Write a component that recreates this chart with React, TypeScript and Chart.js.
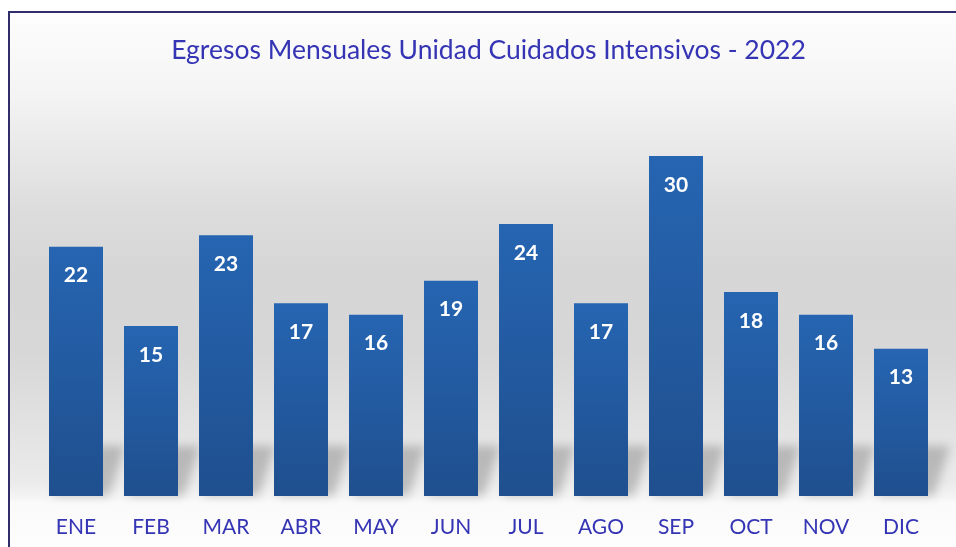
import React, { useEffect, useRef } from "react";
import { Chart, registerables } from "chart.js";

Chart.register(...registerables);

const TITLE = "Egresos Mensuales Unidad Cuidados Intensivos - 2022";
const MONTHS = ["ENE", "FEB", "MAR", "ABR", "MAY", "JUN", "JUL", "AGO", "SEP", "OCT", "NOV", "DIC"];
const EGRESOS = [22, 15, 23, 17, 16, 19, 24, 17, 30, 18, 16, 13];
const Y_MAX = 35;

const TEXT_BLUE = "#3434b4";
const FONT = "Lato, 'Open Sans', sans-serif";

const shadowPlugin = {
  id: "barShadow",
  beforeDatasetsDraw(chart: any) {
    const ctx = chart.ctx;
    const meta = chart.getDatasetMeta(0);
    ctx.save();
    ctx.filter = "blur(5px)";
    ctx.fillStyle = "rgba(0,0,0,0.2)";
    meta.data.forEach((bar: any) => {
      const xL = bar.x - bar.width / 2;
      const xR = bar.x + bar.width / 2;
      const b = bar.base;
      ctx.beginPath();
      ctx.moveTo(xL + 4, b);
      ctx.lineTo(xR + 6, b);
      ctx.lineTo(xR + 22, b - 50);
      ctx.lineTo(xL + 20, b - 50);
      ctx.closePath();
      ctx.fill();
    });
    ctx.restore();
  },
};

const valueLabelPlugin = {
  id: "valueLabels",
  afterDatasetsDraw(chart: any) {
    const ctx = chart.ctx;
    const meta = chart.getDatasetMeta(0);
    const data = chart.data.datasets[0].data;
    ctx.save();
    ctx.fillStyle = "#ffffff";
    ctx.font = `bold 21px ${FONT}`;
    ctx.textAlign = "center";
    ctx.textBaseline = "middle";
    meta.data.forEach((bar: any, i: number) => {
      ctx.fillText(String(data[i]), bar.x, bar.y + 29);
    });
    ctx.restore();
  },
};

export default function App() {
  const ref = useRef<HTMLCanvasElement | null>(null);

  useEffect(() => {
    if (!ref.current) return;
    const chart = new Chart(ref.current, {
      type: "bar",
      data: {
        labels: MONTHS,
        datasets: [
          {
            data: EGRESOS,
            backgroundColor: (c: any) => {
              const ch = c.chart;
              const ys = ch.scales.y;
              if (!ys || c.raw == null || !ch.chartArea) return "#2360aa";
              const top = ys.getPixelForValue(c.raw);
              const bottom = ys.getPixelForValue(0);
              if (!isFinite(top) || !isFinite(bottom) || top === bottom) return "#2360aa";
              const g = ch.ctx.createLinearGradient(0, top, 0, bottom);
              g.addColorStop(0, "#2665b2");
              g.addColorStop(1, "#1f4f8e");
              return g;
            },
            borderWidth: 0,
            barPercentage: 0.72,
            categoryPercentage: 1,
          },
        ],
      },
      options: {
        animation: false,
        responsive: false,
        maintainAspectRatio: false,
        layout: { padding: { left: 38.5, right: 17.5, top: 0, bottom: 0 } },
        plugins: {
          legend: { display: false },
          tooltip: { enabled: false },
          title: {
            display: true,
            text: TITLE,
            color: TEXT_BLUE,
            font: { family: FONT, size: 26.5, weight: "normal", lineHeight: 1.2 },
            padding: { top: 35, bottom: 32.5 },
          },
        },
        scales: {
          x: {
            grid: { display: false, drawTicks: false },
            border: { display: false },
            ticks: {
              color: TEXT_BLUE,
              font: { family: FONT, size: 21, lineHeight: 1.2 },
              padding: 18.5,
              maxRotation: 0,
            },
            afterFit: (s: any) => {
              s.height = 51;
            },
          },
          y: {
            display: false,
            min: 0,
            max: Y_MAX,
          },
        },
      },
      plugins: [shadowPlugin, valueLabelPlugin],
    });
    return () => chart.destroy();
  }, []);

  return (
    <div>
      <div
        style={{
          position: "fixed",
          left: 8,
          top: 11,
          width: 960,
          height: 560,
          boxSizing: "border-box",
          border: "2px solid #2f2d6b",
          background:
            "linear-gradient(to bottom, #fdfdfd 0px, #f4f4f4 80px, #dcdcdc 200px, #d6d6d6 260px, #d7d7d7 340px, #e3e3e3 420px, #ebebeb 470px, #f4f4f4 484px, #fafafa 490px, #fdfdfd 536px)",
        }}
      />
      <canvas
        ref={ref}
        width={956}
        height={547}
        style={{ position: "fixed", left: 0, top: 0, width: 956, height: 547 }}
      />
    </div>
  );
}
